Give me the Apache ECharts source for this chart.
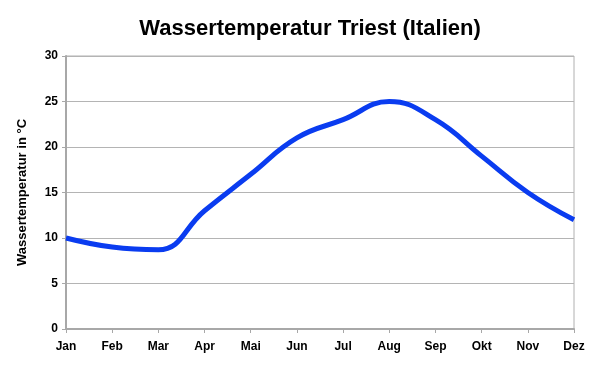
<!DOCTYPE html>
<html><head><meta charset="utf-8">
<script src="https://cdn.jsdelivr.net/npm/echarts@6/dist/echarts.min.js"></script>
<style>html,body{margin:0;padding:0;background:#fff}#c{width:598px;height:383px}</style>
</head><body><div id="c"></div>
<script>
const months = ['Jan','Feb','Mar','Apr','Mai','Jun','Jul','Aug','Sep','Okt','Nov','Dez'];
const temps = [10, 9, 8.7, 13, 17, 21, 23, 25, 23, 19, 15, 12];
const chart = echarts.init(document.getElementById('c'));
const font = '"Liberation Sans", Arial, sans-serif';
chart.setOption({
  animation: false,
  title: {text: 'Wassertemperatur Triest (Italien)', left: 305, top: 13, textAlign: 'center',
    textStyle: {fontFamily: font, fontSize: 22, fontWeight: 'bold', color: '#000'}},
  grid: {left: 66, right: 24, top: 56, bottom: 54, show: true, borderColor: '#b0b0b0', borderWidth: 1},
  xAxis: {type: 'category', data: months, boundaryGap: false,
    axisLine: {lineStyle: {color: '#a8a8a8', width: 2}},
    axisTick: {show: true, length: 4, lineStyle: {color: '#a8a8a8'}},
    axisLabel: {fontFamily: font, fontSize: 12, fontWeight: 'bold', color: '#000', margin: 12},
    splitLine: {show: false}},
  yAxis: {type: 'value', min: 0, max: 30, interval: 5,
    name: 'Wassertemperatur in °C', nameLocation: 'middle', nameGap: 37, nameRotate: 90,
    nameTextStyle: {fontFamily: font, fontSize: 13, fontWeight: 'bold', color: '#000'},
    axisLine: {show: true, lineStyle: {color: '#a8a8a8', width: 2}},
    axisTick: {show: true, length: 4, lineStyle: {color: '#a8a8a8'}},
    axisLabel: {fontFamily: font, fontSize: 12, fontWeight: 'bold', color: '#000', margin: 8},
    splitLine: {show: true, lineStyle: {color: '#b4b4b4', width: 1}}},
  series: [{type: 'line', data: temps, smooth: 0.45, showSymbol: false,
    lineStyle: {color: '#0a3cf0', width: 5}}]
});
</script></body></html>
